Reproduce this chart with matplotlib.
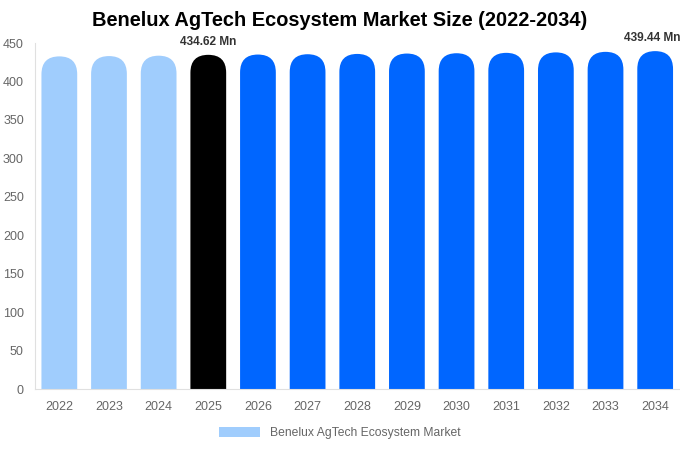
import matplotlib

matplotlib.use("Agg")
import matplotlib.pyplot as plt
from matplotlib.patches import FancyBboxPatch, Patch

plt.rcParams["font.family"] = ["Liberation Sans", "DejaVu Sans"]

years = ["2022", "2023", "2024", "2025", "2026", "2027", "2028",
         "2029", "2030", "2031", "2032", "2033", "2034"]
values = [432.6, 433.0, 433.5, 434.62, 435.0, 435.4, 435.8,
          436.3, 436.7, 437.2, 437.8, 438.5, 439.44]
colors = ["#a0cdfd"] * 3 + ["#000000"] + ["#0066ff"] * 9
labels = {3: "434.62 Mn", 12: "439.44 Mn"}

W, H = 680, 450
fig = plt.figure(figsize=(W / 100, H / 100), dpi=100)
ax = fig.add_axes([35 / W, 1 - 389 / H, 645 / W, 346 / H])
ax.set_xlim(-0.49, len(years) - 0.5)
ax.set_ylim(0, 450)

width = 0.72
# pixel scale, to keep the caps round
x_px = ax.transData.transform((1, 0))[0] - ax.transData.transform((0, 0))[0]
y_px = ax.transData.transform((0, 1))[1] - ax.transData.transform((0, 0))[1]
aspect = x_px / y_px
r = width / 2

for i, (v, c) in enumerate(zip(values, colors)):
    box = FancyBboxPatch((i - r, -r * aspect * 2), width, v + r * aspect * 2,
                         boxstyle=f"round,pad=0,rounding_size={r}",
                         mutation_aspect=aspect, facecolor=c, edgecolor="none")
    ax.add_patch(box)
    if i in labels:
        ax.text(i - 0.05 * (i == 12), v + 9, labels[i], ha="center", va="bottom",
                fontsize=8.6, fontweight="bold", color="#333333", clip_on=False)

ax.set_xticks(range(len(years)))
ax.set_xticklabels(years)
ax.set_yticks(range(0, 451, 50))
ax.tick_params(length=0, colors="#666666", labelsize=9)
ax.tick_params(axis="x", pad=8.5)
ax.tick_params(axis="y", pad=8)
for s in ["top", "right"]:
    ax.spines[s].set_visible(False)
for s in ["left", "bottom"]:
    ax.spines[s].set_color("#e0e0e0")

fig.text(340 / W, 1 - 21 / H, "Benelux AgTech Ecosystem Market Size (2022-2034)",
         ha="center", va="center", fontsize=14.4, fontweight="bold", color="#000000")

handle = Patch(facecolor="#a0cdfd", edgecolor="none")
fig.legend([handle], ["Benelux AgTech Ecosystem Market"], loc="center",
           bbox_to_anchor=(340 / W, 1 - 433 / H), frameon=False,
           fontsize=8.7, labelcolor="#666666", handlelength=3.4, handleheight=0.9)

fig.savefig("out.png", dpi=100)
